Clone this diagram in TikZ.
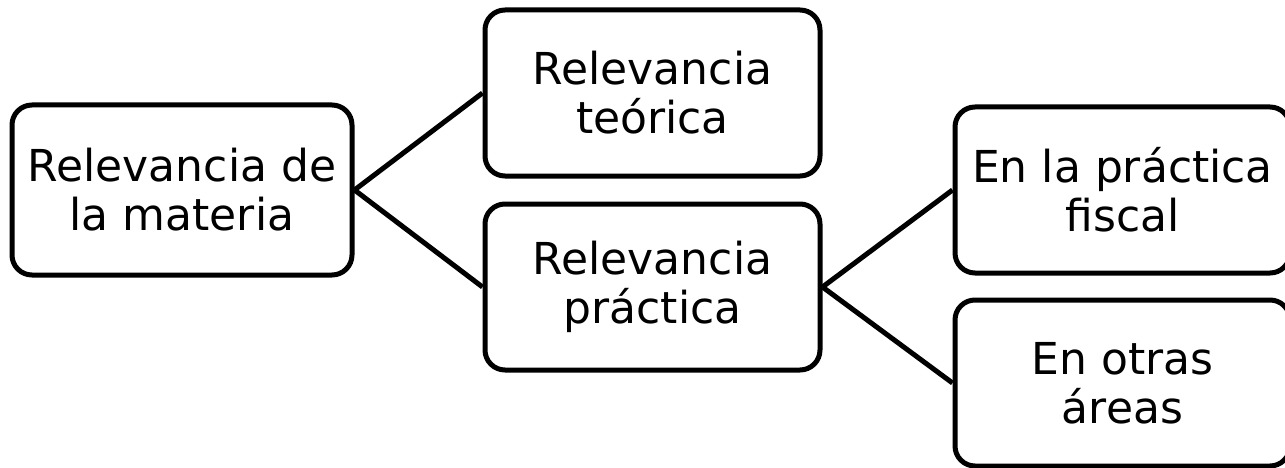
\documentclass[tikz,border=0pt]{standalone}
\usepackage{fontspec}
\setmainfont{DejaVu Sans}
\usepackage{tikz}

\begin{document}
\begin{tikzpicture}[x=1pt, y=-1pt,
  caja/.style={draw=black, line width=5pt, rounded corners=20pt, fill=white,
    align=center, inner sep=0pt, minimum width=335pt, minimum height=166pt,
    font=\fontsize{44}{49}\selectfont},
  linea/.style={draw=black, line width=5pt}]
\useasboundingbox (0,0) rectangle (1285,468);
\node[caja, minimum width=340pt, minimum height=170pt] (materia) at (182,190) {Relevancia de\\la materia};
\node[caja] (teorica) at (652.5,93) {Relevancia\\te\'orica};
\node[caja] (practica) at (652.5,287) {Relevancia\\pr\'actica};
\node[caja] (fiscal) at (1122.5,190) {En la pr\'actica\\fiscal};
\node[caja] (otras) at (1122.5,383) {En otras\\\'areas};
\draw[linea] (materia.east) -- (teorica.west);
\draw[linea] (materia.east) -- (practica.west);
\draw[linea] (practica.east) -- (fiscal.west);
\draw[linea] (practica.east) -- (otras.west);
\end{tikzpicture}
\end{document}
